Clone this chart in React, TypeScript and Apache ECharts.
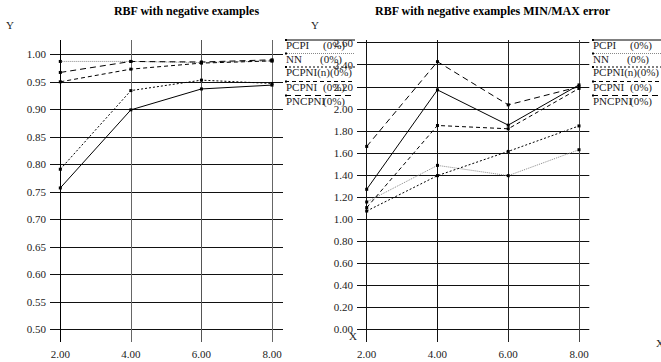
import React, { useEffect, useRef } from "react";
import * as echarts from "echarts";

const X_VALUES = [2, 4, 6, 8];
const SERIES_NAMES = ["PCPI", "NN", "PCPNI(n)", "PCPNI", "PNCPNI"];

// Left chart: RBF with negative examples
const LEFT_PCPI = [0.757, 0.899, 0.937, 0.944];
const LEFT_NN = [0.987, 0.987, 0.985, 0.988];
const LEFT_PCPNIN = [0.791, 0.934, 0.953, 0.947];
const LEFT_PCPNI = [0.95, 0.973, 0.984, 0.988];
const LEFT_PNCPNI = [0.967, 0.987, 0.986, 0.99];

// Right chart: MIN/MAX error
const RIGHT_PCPI = [1.27, 2.172, 1.852, 2.217];
const RIGHT_NN = [1.155, 1.487, 1.394, 1.629];
const RIGHT_PCPNIN = [1.073, 1.394, 1.614, 1.845];
const RIGHT_PCPNI = [1.104, 1.849, 1.819, 2.185];
const RIGHT_PNCPNI = [1.659, 2.428, 2.036, 2.2];

const LEGEND_SUFFIX = "(0%)";

const FONT = "'Liberation Serif', 'Times New Roman', serif";

const STYLES: { color: string; dash: number[] | "solid" }[] = [
  { color: "#000", dash: "solid" },
  { color: "#888", dash: [1, 1] },
  { color: "#000", dash: [2, 2] },
  { color: "#000", dash: [4, 3] },
  { color: "#000", dash: [6, 4] },
];

function makeSeries(data: number[][], xi: number, yi: number) {
  return data.map((vals, i) => ({
    type: "line",
    name: SERIES_NAMES[i],
    xAxisIndex: xi,
    yAxisIndex: yi,
    data: X_VALUES.map((x, k) => [x, vals[k]]),
    symbol: "rect",
    symbolSize: 3,
    showSymbol: true,
    itemStyle: { color: "#000" },
    lineStyle: { color: STYLES[i].color, width: 1, type: STYLES[i].dash },
    silent: true,
    z: 5,
  }));
}

function makeLegend(x0: number): any[] {
  const ys = [40, 53.5, 67, 81.5, 95.5];
  const out: any[] = [];
  SERIES_NAMES.forEach((name, i) => {
    const y = ys[i];
    const st = STYLES[i];
    out.push({
      type: "line",
      shape: { x1: x0, y1: y, x2: x0 + 70, y2: y },
      style: {
        stroke: st.color,
        lineWidth: 1,
        lineDash: st.dash === "solid" ? null : st.dash,
      },
      z: 20,
    });
    out.push({
      type: "rect",
      shape: { x: x0, y: y - 1, width: 2, height: 2 },
      style: { fill: "#000" },
      z: 21,
    });
    const full = name === "PCPNI(n)";
    out.push({
      type: "text",
      x: x0 + 1,
      y: y + 5,
      style: {
        text: full ? name + LEGEND_SUFFIX : name,
        font: `11px ${FONT}`,
        fill: "#222",
        verticalAlign: "middle",
      },
      z: 21,
    });
    if (!full) {
      out.push({
        type: "text",
        x: x0 + (name === "NN" ? 35 : 38),
        y: y + 5,
        style: {
          text: LEGEND_SUFFIX,
          font: `11px ${FONT}`,
          fill: "#222",
          verticalAlign: "middle",
        },
        z: 21,
      });
    }
  });
  return out;
}

export default function App() {
  const ref = useRef<HTMLDivElement>(null);
  useEffect(() => {
    document.body.style.margin = "0";
    if (!ref.current) return;
    const chart = echarts.init(ref.current, undefined, { renderer: "svg" });

    const labelStyle = { color: "#222", fontFamily: FONT, fontSize: 11 };
    const titleStyle = { fontFamily: FONT, fontSize: 12, fontWeight: "bold", color: "#000" };

    const option: any = {
      animation: false,
      backgroundColor: "#fff",
      title: [
        { text: "RBF with negative examples", left: 181.5, top: 0, textAlign: "center", textStyle: titleStyle },
        { text: "RBF with negative examples MIN/MAX error", left: 487.5, top: 0, textAlign: "center", textStyle: titleStyle },
      ],
      grid: [
        { left: 50, top: 54.3, width: 233, height: 275 },
        { left: 60.3, top: 40, width: 211.7, height: 302 },
        { left: 357, top: 42.7, width: 232.3, height: 286.6 },
        { left: 366.7, top: 40, width: 212.3, height: 302 },
      ],
      xAxis: [
        { gridIndex: 0, type: "value", min: 2 - 10.3 / 35.28, max: 8 + 11 / 35.28, show: false },
        {
          gridIndex: 1,
          type: "value",
          min: 2,
          max: 8,
          interval: 2,
          axisLine: { show: false },
          axisTick: { show: false },
          splitLine: { show: true, lineStyle: { color: ["#000", "#666", "#555", "#666"], width: 1 } },
          axisLabel: { ...labelStyle, margin: 6, formatter: (v: number) => v.toFixed(2) },
        },
        { gridIndex: 2, type: "value", min: 2 - 9.7 / 35.38, max: 8 + 10.3 / 35.38, show: false },
        {
          gridIndex: 3,
          type: "value",
          min: 2,
          max: 8,
          interval: 2,
          axisLine: { show: false },
          axisTick: { show: false },
          splitLine: { show: true, lineStyle: { color: ["#111", "#111", "#222", "#444"], width: 1 } },
          axisLabel: { ...labelStyle, margin: 6, formatter: (v: number) => v.toFixed(2) },
        },
      ],
      yAxis: [
        {
          gridIndex: 0,
          type: "value",
          min: 0.5,
          max: 1.0,
          interval: 0.05,
          axisLine: { show: false },
          axisTick: { show: false },
          splitLine: { show: true, lineStyle: { color: "#111", width: 1 } },
          axisLabel: { ...labelStyle, margin: 4, formatter: (v: number) => v.toFixed(2) },
        },
        { gridIndex: 1, type: "value", min: 0, max: 1, show: false },
        {
          gridIndex: 2,
          type: "value",
          min: 0,
          max: 2.6,
          interval: 0.2,
          axisLine: { show: false },
          axisTick: { show: false },
          splitLine: { show: true, lineStyle: { color: "#111", width: 1 } },
          axisLabel: { ...labelStyle, margin: 4, formatter: (v: number) => v.toFixed(2) },
        },
        { gridIndex: 3, type: "value", min: 0, max: 1, show: false },
      ],
      series: [
        ...makeSeries([LEFT_PCPI, LEFT_NN, LEFT_PCPNIN, LEFT_PCPNI, LEFT_PNCPNI], 0, 0),
        ...makeSeries([RIGHT_PCPI, RIGHT_NN, RIGHT_PCPNIN, RIGHT_PCPNI, RIGHT_PNCPNI], 2, 2),
      ],
      graphic: [
        { type: "text", x: 10, y: 25, style: { text: "Y", font: `11px ${FONT}`, fill: "#222", align: "center", verticalAlign: "middle" } },
        { type: "text", x: 315, y: 25, style: { text: "Y", font: `11px ${FONT}`, fill: "#222", align: "center", verticalAlign: "middle" } },
        { type: "text", x: 353, y: 336, style: { text: "X", font: `11px ${FONT}`, fill: "#222", align: "center", verticalAlign: "middle" } },
        { type: "text", x: 656, y: 343, style: { text: "X", font: `11px ${FONT}`, fill: "#222", align: "left", verticalAlign: "middle" } },
        ...makeLegend(285),
        ...makeLegend(592),
      ],
    };
    chart.setOption(option);
    return () => chart.dispose();
  }, []);
  return <div ref={ref} style={{ width: 661, height: 362 }} />;
}
